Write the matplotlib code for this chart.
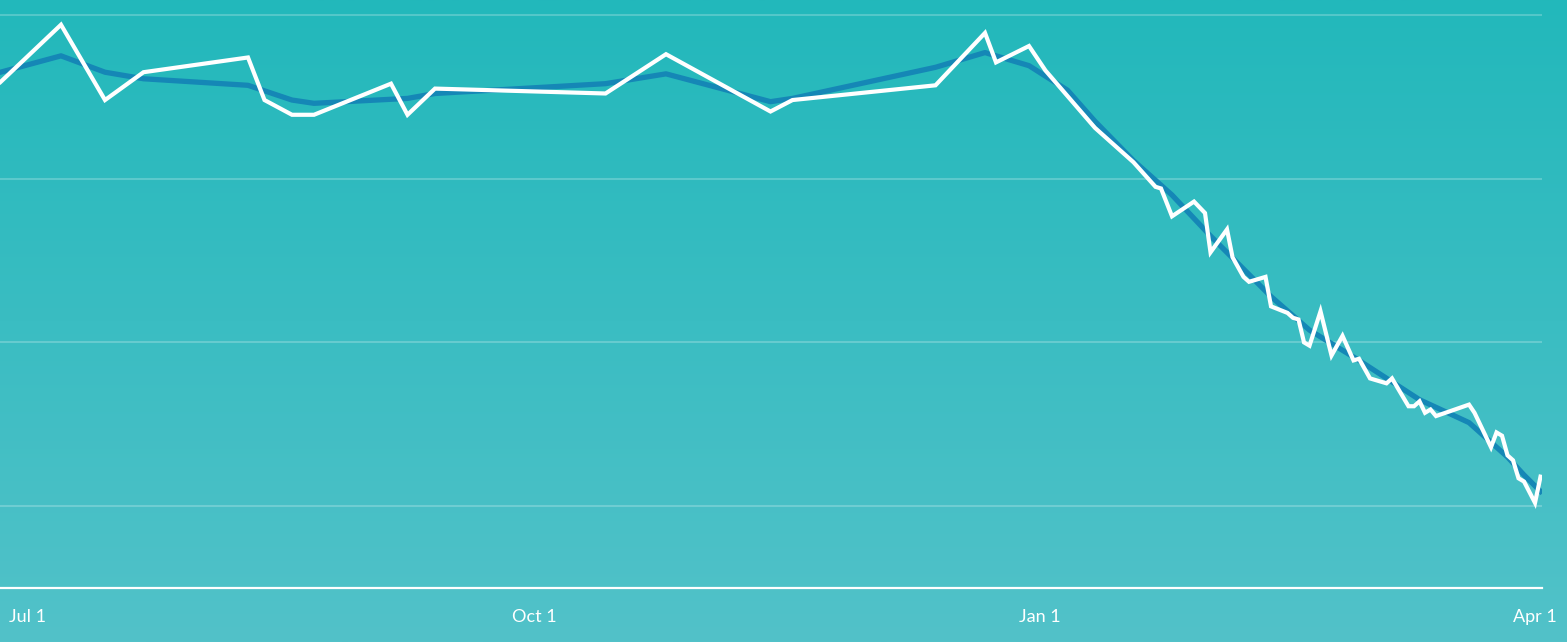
import numpy as np
import matplotlib
matplotlib.use("Agg")
import matplotlib.pyplot as plt
import matplotlib.dates as mdates

# white line: daily values (dates)
fechas = ["2018-06-26", "2018-07-07", "2018-07-15", "2018-07-22", "2018-08-10", "2018-08-13",
          "2018-08-18", "2018-08-22", "2018-09-05", "2018-09-08", "2018-09-13", "2018-10-14",
          "2018-10-25", "2018-11-13", "2018-11-17", "2018-12-13", "2018-12-22", "2018-12-24",
          "2018-12-30", "2019-01-02", "2019-01-11", "2019-01-18", "2019-01-22", "2019-01-23",
          "2019-01-25", "2019-01-29", "2019-01-31", "2019-02-01", "2019-02-04", "2019-02-05",
          "2019-02-07", "2019-02-08", "2019-02-11", "2019-02-12", "2019-02-15", "2019-02-16",
          "2019-02-17", "2019-02-18", "2019-02-19", "2019-02-21", "2019-02-23", "2019-02-25",
          "2019-02-27", "2019-02-28", "2019-03-02", "2019-03-04", "2019-03-05", "2019-03-06",
          "2019-03-09", "2019-03-10", "2019-03-11", "2019-03-12", "2019-03-13", "2019-03-14",
          "2019-03-20", "2019-03-21", "2019-03-24", "2019-03-25", "2019-03-26", "2019-03-27",
          "2019-03-28", "2019-03-29", "2019-03-30", "2019-04-01", "2019-04-02"]
valores = [35.9, 39.4, 34.8, 36.5, 37.4, 34.8,
           33.9, 33.9, 35.8, 33.9, 35.5, 35.2,
           37.6, 34.1, 34.8, 35.7, 38.9, 37.1,
           38.1, 36.6, 33.1, 31.0, 29.5, 29.4,
           27.7, 28.6, 27.9, 25.5, 26.9, 25.2,
           24.0, 23.7, 24.0, 22.2, 21.8, 21.5,
           21.4, 20.0, 19.8, 21.9, 19.2, 20.4,
           18.9, 19.0, 17.8, 17.6, 17.5, 17.8,
           16.1, 16.1, 16.4, 15.7, 15.9, 15.5,
           16.2, 15.7, 13.6, 14.5, 14.3, 13.1,
           12.8, 11.7, 11.5, 10.2, 11.8]

# blue line: smoothed trend
fechas_tend = ["2018-06-26", "2018-07-07", "2018-07-15", "2018-07-22", "2018-08-10", "2018-08-18",
               "2018-08-22", "2018-09-08", "2018-09-13", "2018-10-14", "2018-10-25", "2018-11-13",
               "2018-11-17", "2018-12-13", "2018-12-22", "2018-12-30", "2019-01-06", "2019-01-11",
               "2019-01-18", "2019-01-25", "2019-02-01", "2019-02-12", "2019-02-19", "2019-02-28",
               "2019-03-11", "2019-03-20", "2019-03-23", "2019-03-27", "2019-03-30", "2019-04-02"]
tendencia = [36.5, 37.5, 36.5, 36.1, 35.7, 34.8,
             34.6, 34.9, 35.2, 35.8, 36.4, 34.7,
             34.9, 36.8, 37.7, 36.9, 35.4, 33.5,
             31.1, 29.0, 26.5, 22.8, 20.75, 18.9,
             16.5, 15.1, 14.2, 13.0, 11.9, 10.9]

ticks = ["2018-07-01", "2018-10-01", "2019-01-01", "2019-04-01"]
tick_labels = ["Jul 1", "Oct 1", "Jan 1", "Apr 1"]
grid_vals = [10, 20, 30, 40]

W, H = 1567, 642
fig = plt.figure(figsize=(W / 100, H / 100), dpi=100)

# fondo degradado
bg = fig.add_axes([0, 0, 1, 1])
top = np.array([34, 184, 187]) / 255
bottom = np.array([82, 194, 201]) / 255
t = np.linspace(0, 1, 256)[:, None]
grad = top + (bottom - top) * t
bg.imshow(grad[:, None, :], aspect="auto", extent=[0, 1, 0, 1])
bg.set_axis_off()

ax = fig.add_axes([0, (H - 588) / H, 1542 / W, 588 / H])
ax.patch.set_alpha(0)

x = mdates.datestr2num(fechas)
xt = mdates.datestr2num(fechas_tend)
ax.plot(xt, tendencia, color="#1587b6", lw=3.8, solid_joinstyle="round", zorder=3)
ax.plot(x, valores, color="white", lw=3.0, solid_joinstyle="miter", zorder=4)

for g in grid_vals:
    ax.axhline(g, color="white", alpha=0.22, lw=1.5, zorder=1)

jul1 = mdates.datestr2num("2018-07-01")
ax.set_xlim(jul1 - 5.09, jul1 + 275.27)
ax.set_ylim(5, 40.91)

for s in ["top", "right", "left"]:
    ax.spines[s].set_visible(False)
ax.spines["bottom"].set_color("white")
ax.spines["bottom"].set_linewidth(1.6)
ax.set_yticks([])
ax.set_xticks(mdates.datestr2num(ticks))
ax.set_xticklabels(tick_labels, color="white", fontsize=13, family=["Lato", "DejaVu Sans"])
ax.tick_params(axis="x", length=0, pad=15)

fig.savefig("out.png", dpi=100)
